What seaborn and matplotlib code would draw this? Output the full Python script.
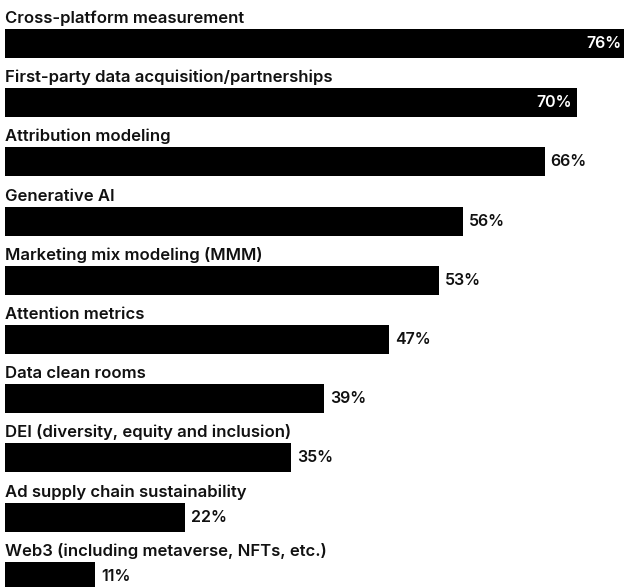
import matplotlib
matplotlib.use("Agg")
import matplotlib.pyplot as plt
import seaborn as sns
import pandas as pd

categories = [
    "Cross-platform measurement",
    "First-party data acquisition/partnerships",
    "Attribution modeling",
    "Generative AI",
    "Marketing mix modeling (MMM)",
    "Attention metrics",
    "Data clean rooms",
    "DEI (diversity, equity and inclusion)",
    "Ad supply chain sustainability",
    "Web3 (including metaverse, NFTs, etc.)",
]
values = [76, 70, 66, 56, 53, 47, 39, 35, 22, 11]
inside_threshold = 70

df = pd.DataFrame({"category": categories, "value": values})

sns.set_theme(style="white")
plt.rcParams["font.family"] = ["Inter", "DejaVu Sans"]

fig = plt.figure(figsize=(6.24, 5.87), dpi=100)
ax = fig.add_axes([0, 0, 1, 1])
sns.barplot(data=df, x="value", y="category", orient="h", color="black",
            saturation=1, width=0.49, ax=ax, edgecolor="none")

ax.set_xlim(-0.67, 75.7)
ax.set_ylim(9.18, -0.735)
ax.axis("off")

for i, (cat, v) in enumerate(zip(categories, values)):
    ax.text(0, i - 0.346, cat, ha="left", va="baseline", fontsize=12,
            fontweight="semibold", color="#111111")
    if v >= inside_threshold:
        ax.annotate(f"{v}%", xy=(v, i), xytext=(-5, 0), textcoords="offset pixels",
                    ha="right", va="center", fontsize=11.5, fontweight="semibold",
                    color="white", annotation_clip=False)
    else:
        ax.annotate(f"{v}%", xy=(v, i), xytext=(6, 0), textcoords="offset pixels",
                    ha="left", va="center", fontsize=11.5, fontweight="semibold",
                    color="#111111", annotation_clip=False)

fig.savefig("out.png", dpi=100, facecolor="white")
